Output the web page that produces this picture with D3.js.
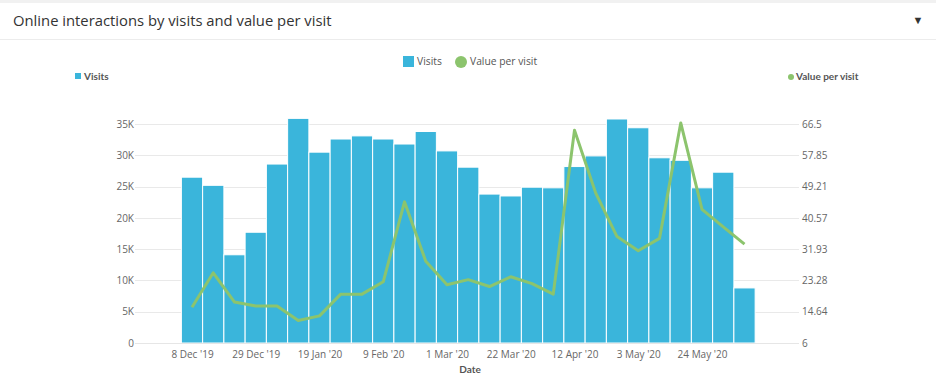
<!DOCTYPE html>
<html>
<head>
<meta charset="utf-8">
<script src="https://cdn.jsdelivr.net/npm/d3@7"></script>
<style>
  body { margin: 0; background: #fff; font-family: "Open Sans", sans-serif; }
  .grid line { stroke: #e9e9e9; }
  .tick text { fill: #666; }
</style>
</head>
<body>
<script>
// weekly visits (bars) and value per visit (line)
var weeks = ["2019-12-08", "2019-12-15", "2019-12-22", "2019-12-29", "2020-01-05",
             "2020-01-12", "2020-01-19", "2020-01-26", "2020-02-02", "2020-02-09",
             "2020-02-16", "2020-02-23", "2020-03-01", "2020-03-08", "2020-03-15",
             "2020-03-22", "2020-03-29", "2020-04-05", "2020-04-12", "2020-04-19",
             "2020-04-26", "2020-05-03", "2020-05-10", "2020-05-17", "2020-05-24",
             "2020-05-31", "2020-06-07"];
var visits = [26500, 25200, 14100, 17700, 28600, 35900, 30500, 32600, 33100, 32600,
              31800, 33800, 30700, 28100, 23800, 23500, 24900, 24800, 28200, 29900,
              35800, 34400, 29600, 29200, 24800, 27300, 8800];
var valuePerVisit = [15.9, 25.4, 17.3, 16.2, 16.2, 12.2, 13.5, 19.5, 19.5, 22.9,
                     45.0, 28.6, 22.1, 23.5, 21.6, 24.3, 22.4, 19.5, 64.8, 47.4,
                     35.4, 31.5, 34.9, 66.8, 42.9, 38.1, 33.3];
var leftTicks = [0, 5000, 10000, 15000, 20000, 25000, 30000, 35000];
var rightTicks = [6, 14.64, 23.28, 31.93, 40.57, 49.21, 57.85, 66.5];
var dateTicks = ["2019-12-08", "2019-12-29", "2020-01-19", "2020-02-09", "2020-03-01",
                 "2020-03-22", "2020-04-12", "2020-05-03", "2020-05-24"];

window.onload = drawChart();

function drawChart(){
    var width = 936,
        height = 386;

    var svg = d3.select("body")
        .append("svg")
        .attr("width", width)
        .attr("height", height);

    //header panel
    svg.append("rect").attr("width", width).attr("height", 3).style("fill", "#f1f1f1");
    svg.append("line")
        .attr("x1", 0).attr("x2", width)
        .attr("y1", 39.5).attr("y2", 39.5)
        .style("stroke", "#ececec");
    svg.append("text")
        .attr("x", 13).attr("y", 26)
        .style("font-size", "14.8px")
        .style("fill", "#333")
        .text("Online interactions by visits and value per visit");
    svg.append("text")
        .attr("x", 918).attr("y", 24)
        .attr("text-anchor", "middle")
        .style("font-size", "11px")
        .style("fill", "#333")
        .text("\u25BC");

    //plot area
    var left = 135, right = 799, top = 124, bottom = 343;
    var parse = d3.timeParse("%Y-%m-%d");
    var weekDates = weeks.map(parse);

    var y = d3.scaleLinear().domain([0, 35000]).range([bottom, top]);
    var y2 = d3.scaleLinear().domain([6, 66.5]).range([bottom, top]);
    var x = d3.scaleTime()
        .domain([parse("2019-12-08"), parse("2020-05-24")])
        .range([192, 702]);
    var barW = x(weekDates[1]) - x(weekDates[0]);

    //gridlines
    svg.append("g")
        .attr("class", "grid")
        .selectAll("line")
        .data(leftTicks.slice(1))
        .enter()
        .append("line")
        .attr("x1", left).attr("x2", right)
        .attr("y1", function(d){ return Math.round(y(d)) + 0.5; })
        .attr("y2", function(d){ return Math.round(y(d)) + 0.5; });

    //bars
    svg.append("g")
        .selectAll("rect")
        .data(visits)
        .enter()
        .append("rect")
        .attr("x", function(d, i){ return x(weekDates[i]) - barW / 2; })
        .attr("width", barW)
        .attr("y", function(d){ return y(d); })
        .attr("height", function(d){ return bottom - y(d); })
        .style("fill", "#3ab5db")
        .style("stroke", "#fff")
        .style("stroke-width", 1);

    //x baseline
    svg.append("line")
        .attr("x1", left).attr("x2", right)
        .attr("y1", bottom + 0.5).attr("y2", bottom + 0.5)
        .style("stroke", "#e6e6e6");

    //value per visit line
    var line = d3.line()
        .x(function(d, i){ return x(weekDates[i]); })
        .y(function(d){ return y2(d); });
    svg.append("path")
        .datum(valuePerVisit)
        .attr("d", line)
        .style("fill", "none")
        .style("stroke", "#8cc46d")
        .style("stroke-width", 3)
        .style("stroke-linejoin", "round");

    //left axis
    var yAxis = d3.axisLeft(y)
        .tickValues(leftTicks)
        .tickSize(0)
        .tickPadding(0)
        .tickFormat(function(d){ return d === 0 ? "0" : (d / 1000) + "K"; });
    svg.append("g")
        .attr("transform", "translate(134,0)")
        .style("font-family", "Open Sans")
        .style("font-size", "10px")
        .call(yAxis)
        .call(function(g){ g.select(".domain").remove(); });

    //right axis
    var y2Axis = d3.axisRight(y2)
        .tickValues(rightTicks)
        .tickSize(0)
        .tickPadding(0)
        .tickFormat(function(d){ return String(d); });
    svg.append("g")
        .attr("transform", "translate(802,0)")
        .style("font-family", "Open Sans")
        .style("font-size", "10px")
        .call(y2Axis)
        .call(function(g){ g.select(".domain").remove(); });

    //x axis labels
    var fmt = d3.timeFormat("%-d %b '%y");
    var xAxis = d3.axisBottom(x)
        .tickValues(dateTicks.map(parse))
        .tickSize(0)
        .tickPadding(8)
        .tickFormat(fmt);
    svg.append("g")
        .attr("transform", "translate(0," + bottom + ")")
        .style("font-family", "Open Sans")
        .style("font-size", "10px")
        .call(xAxis)
        .call(function(g){ g.select(".domain").remove(); });

    //axis titles
    svg.append("text")
        .attr("x", 470).attr("y", 373)
        .attr("text-anchor", "middle")
        .style("font-family", "Lato")
        .style("font-size", "10px")
        .style("font-weight", "bold")
        .style("fill", "#555")
        .text("Date");

    svg.append("rect")
        .attr("x", 75).attr("y", 73)
        .attr("width", 6).attr("height", 6)
        .style("fill", "#3ab5db");
    svg.append("text")
        .attr("x", 84).attr("y", 80)
        .style("font-family", "Lato")
        .style("font-size", "10px")
        .style("font-weight", "bold")
        .style("fill", "#555")
        .text("Visits");

    svg.append("circle")
        .attr("cx", 791).attr("cy", 77)
        .attr("r", 3)
        .style("fill", "#8cc46d");
    svg.append("text")
        .attr("x", 796).attr("y", 80)
        .style("font-family", "Lato")
        .style("font-size", "10px")
        .style("font-weight", "bold")
        .style("fill", "#555")
        .text("Value per visit");

    //legend
    var legend = svg.append("g");
    legend.append("rect")
        .attr("x", 403).attr("y", 56)
        .attr("width", 11).attr("height", 11)
        .style("fill", "#3ab5db");
    legend.append("text")
        .attr("x", 417).attr("y", 65)
        .style("font-size", "10.3px")
        .style("fill", "#555")
        .text("Visits");
    legend.append("circle")
        .attr("cx", 461).attr("cy", 62)
        .attr("r", 6)
        .style("fill", "#8cc46d");
    legend.append("text")
        .attr("x", 470).attr("y", 65)
        .style("font-size", "10.3px")
        .style("fill", "#555")
        .text("Value per visit");
}
</script>
</body>
</html>
